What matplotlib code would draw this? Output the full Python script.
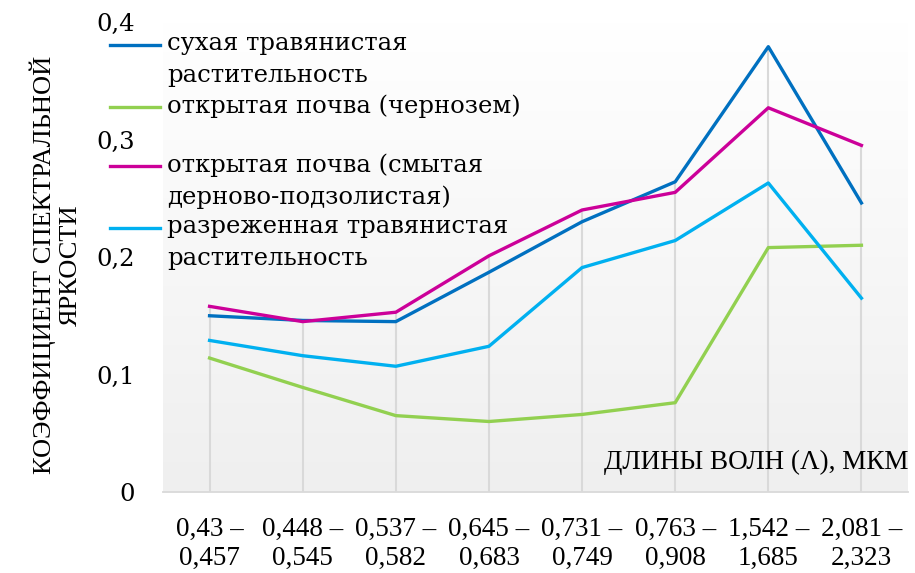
import numpy as np
import matplotlib
matplotlib.use("Agg")
import matplotlib.pyplot as plt
from matplotlib.colors import LinearSegmentedColormap
from matplotlib.lines import Line2D

categories = ["0,43 –\n0,457", "0,448 –\n0,545", "0,537 –\n0,582", "0,645 –\n0,683",
              "0,731 –\n0,749", "0,763 –\n0,908", "1,542 –\n1,685", "2,081 –\n2,323"]
series_names = ["сухая травянистая\nрастительность",
                "открытая почва (чернозем)",
                "открытая почва (смытая\nдерново-подзолистая)",
                "разреженная травянистая\nрастительность"]
dry_grass = [0.150, 0.146, 0.145, 0.187, 0.230, 0.264, 0.379, 0.246]
chernozem = [0.114, 0.089, 0.065, 0.060, 0.066, 0.076, 0.208, 0.210]
washed_soil = [0.158, 0.145, 0.153, 0.201, 0.240, 0.255, 0.327, 0.295]
sparse_grass = [0.129, 0.116, 0.107, 0.124, 0.191, 0.214, 0.263, 0.165]
y_ticks = [0.0, 0.1, 0.2, 0.3, 0.4]
y_tick_labels = ["0", "0,1", "0,2", "0,3", "0,4"]
colors = ["#0070C0", "#92D050", "#CC0099", "#00B0F0"]

W, H = 915, 573
fig = plt.figure(figsize=(W / 100, H / 100), dpi=100)
ax = fig.add_axes([163 / W, (H - 492) / H, (908 - 163) / W, (492 - 22) / H])

x = np.arange(len(categories))
data = [dry_grass, chernozem, washed_soil, sparse_grass]

# gradient background (white at top, light grey at bottom)
cmap = LinearSegmentedColormap.from_list("g", ["#ffffff", "#efefef"])
grad = np.linspace(1, 0, 256).reshape(-1, 1)
ax.imshow(grad, extent=[-0.5, len(categories) - 0.5, 0.0, 0.4], aspect="auto",
          cmap=cmap, zorder=0, origin="lower")

# drop lines
mx = np.max(np.array(data), axis=0)
ax.vlines(x, 0, mx, color="#d9d9d9", lw=1.5, zorder=1)

for vals, c in zip(data, colors):
    ax.plot(x, vals, color=c, lw=2.4, zorder=3, solid_joinstyle="round")

ax.set_xlim(-0.5, len(categories) - 0.5)
ax.set_ylim(0, 0.4)
for s in ["top", "right", "left"]:
    ax.spines[s].set_visible(False)
ax.spines["bottom"].set_color("#d9d9d9")
ax.spines["bottom"].set_linewidth(1.3)

ax.set_yticks(y_ticks)
ax.set_yticklabels(y_tick_labels, fontfamily="DejaVu Serif", fontsize=17.5)
ax.tick_params(axis="y", length=0, pad=20)
ax.set_xticks(x)
ax.set_xticklabels(categories, fontfamily="Liberation Serif", fontsize=19.5,
                   linespacing=1.2)
ax.tick_params(axis="x", length=0, pad=18)

ax.text(1.0, 0.062, "ДЛИНЫ ВОЛН (Λ), МКМ", transform=ax.transAxes, ha="right",
        va="center", fontfamily="Liberation Serif", fontsize=19.5)

fig.text(56 / W, 1 - 265 / H, "КОЭФФИЦИЕНТ СПЕКТРАЛЬНОЙ\nЯРКОСТИ", rotation=90,
         ha="center", va="center", fontfamily="Liberation Serif", fontsize=19,
         linespacing=1.25, multialignment="center")

# legend drawn manually (handle aligned with first text line)
leg_y = [45, 107, 166, 228]
for name, c, yy in zip(series_names, colors, leg_y):
    fig.add_artist(Line2D([110 / W, 160 / W], [1 - yy / H, 1 - yy / H], color=c, lw=2.4,
                          transform=fig.transFigure))
    fig.text(167 / W, 1 - (yy - 13) / H, name, ha="left", va="top",
             fontfamily="DejaVu Serif", fontsize=17.5, linespacing=1.5)

fig.savefig("out.png", dpi=100)
